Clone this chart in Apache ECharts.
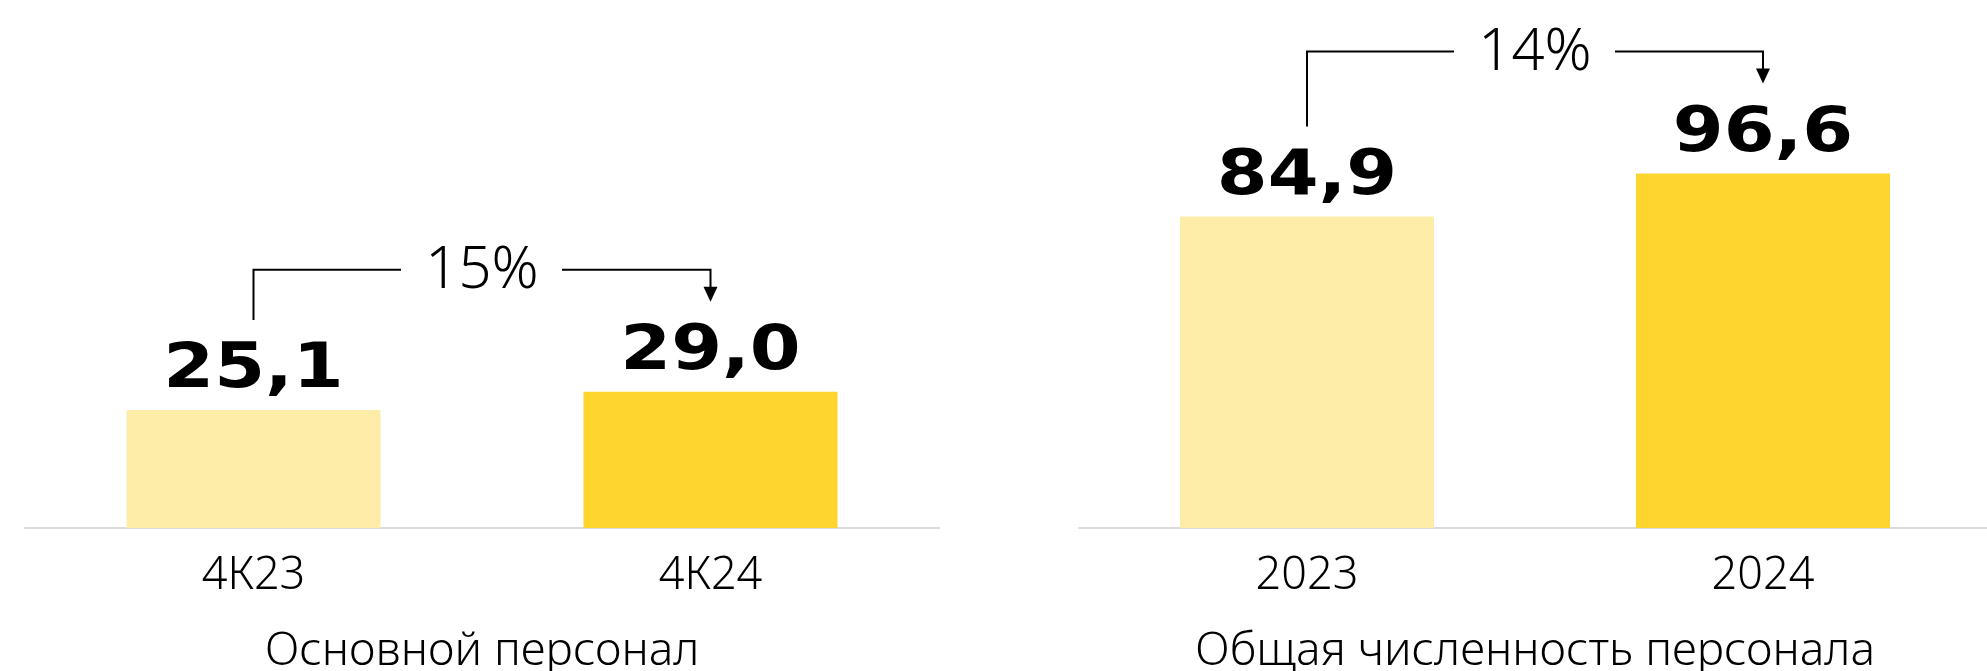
<!DOCTYPE html>
<html>
<head>
<meta charset="utf-8">
<script src="https://cdn.jsdelivr.net/npm/echarts@6/dist/echarts.min.js"></script>
<style>
	html, body { margin: 0; padding: 0; background: #fff; }
	#echart { width: 1987px; height: 671px; }
</style>
</head>
<body>
<div id="echart"></div>
<script>
	// данные
	var quarters = ['4К23', '4К24'];
	var coreStaff = [25.1, 29.0];
	var years = ['2023', '2024'];
	var totalStaff = [84.9, 96.6];
	var growthLabels = ['15%', '14%'];
	var panelTitles = ['Основной персонал', 'Общая численность персонала'];

	var colors = ['#FEEDA9', '#FED42E'];
	var textFont = '"Noto Sans", "DejaVu Sans", sans-serif';

	function fmt(v) {
		return v.toFixed(1).replace('.', ',');
	}

	function barData(values) {
		return values.map(function (v, i) {
			return { value: v, itemStyle: { color: colors[i] } };
		});
	}

	// подписи значений + скобка с процентом
	function renderNotes(params, api) {
		var p1 = api.coord([0, api.value(1)]);
		var p2 = api.coord([1, api.value(2)]);
		var label = growthLabels[api.value(3)];
		var lineY = Math.min(p1[1], p2[1]) - 122;
		var mid = (p1[0] + p2[0]) / 2;
		var tip = lineY + 32;
		var stroke = { stroke: '#000', lineWidth: 2, fill: null };
		return {
			type: 'group',
			children: [
				{ type: 'text', x: p1[0], y: p1[1] - 8, scaleX: 1.18,
					style: { text: fmt(api.value(1)), font: 'bold 62px "DejaVu Sans"', fill: '#000', align: 'center', verticalAlign: 'bottom' } },
				{ type: 'text', x: p2[0], y: p2[1] - 8, scaleX: 1.18,
					style: { text: fmt(api.value(2)), font: 'bold 62px "DejaVu Sans"', fill: '#000', align: 'center', verticalAlign: 'bottom' } },
				{ type: 'polyline', shape: { points: [[p1[0], p1[1] - 90], [p1[0], lineY], [mid - 81, lineY]] }, style: stroke },
				{ type: 'polyline', shape: { points: [[mid + 80, lineY], [p2[0], lineY], [p2[0], tip - 14]] }, style: stroke },
				{ type: 'polygon', shape: { points: [[p2[0] - 7, tip - 15], [p2[0] + 7, tip - 15], [p2[0], tip]] }, style: { fill: '#000' } },
				{ type: 'text', x: mid, y: lineY + 2,
					style: { text: label, font: '300 58px ' + textFont, fill: '#000', align: 'center', verticalAlign: 'middle' } }
			]
		};
	}

	function xAxisFor(cats, title, idx) {
		return {
			type: 'category',
			gridIndex: idx,
			data: cats,
			name: title,
			nameLocation: 'middle',
			nameGap: 101,
			nameTextStyle: { fontFamily: textFont, fontWeight: 300, fontSize: 46, color: '#000' },
			axisLine: { lineStyle: { color: '#DCDCDC', width: 2 } },
			axisTick: { show: false },
			axisLabel: { fontFamily: textFont, fontWeight: 300, fontSize: 45, color: '#000', margin: 26 }
		};
	}

	function yAxisFor(idx) {
		return { type: 'value', gridIndex: idx, min: 0, max: 100, show: false, splitLine: { show: false } };
	}

	var myChart = echarts.init(document.getElementById('echart'));
	myChart.setOption({
		animation: false,
		grid: [
			{ left: 25, width: 914, top: 58, bottom: 143, outerBoundsMode: 'none' },
			{ left: 1079, width: 912, top: 161, bottom: 143, outerBoundsMode: 'none' }
		],
		xAxis: [xAxisFor(quarters, panelTitles[0], 0), xAxisFor(years, panelTitles[1], 1)],
		yAxis: [yAxisFor(0), yAxisFor(1)],
		series: [
			{ type: 'bar', xAxisIndex: 0, yAxisIndex: 0, barWidth: 254, data: barData(coreStaff) },
			{ type: 'bar', xAxisIndex: 1, yAxisIndex: 1, barWidth: 254, data: barData(totalStaff) },
			{ type: 'custom', xAxisIndex: 0, yAxisIndex: 0, clip: false, renderItem: renderNotes,
				data: [[0, coreStaff[0], coreStaff[1], 0]], encode: { x: 0, y: 1 } },
			{ type: 'custom', xAxisIndex: 1, yAxisIndex: 1, clip: false, renderItem: renderNotes,
				data: [[0, totalStaff[0], totalStaff[1], 1]], encode: { x: 0, y: 1 } }
		]
	});
</script>
</body>
</html>
